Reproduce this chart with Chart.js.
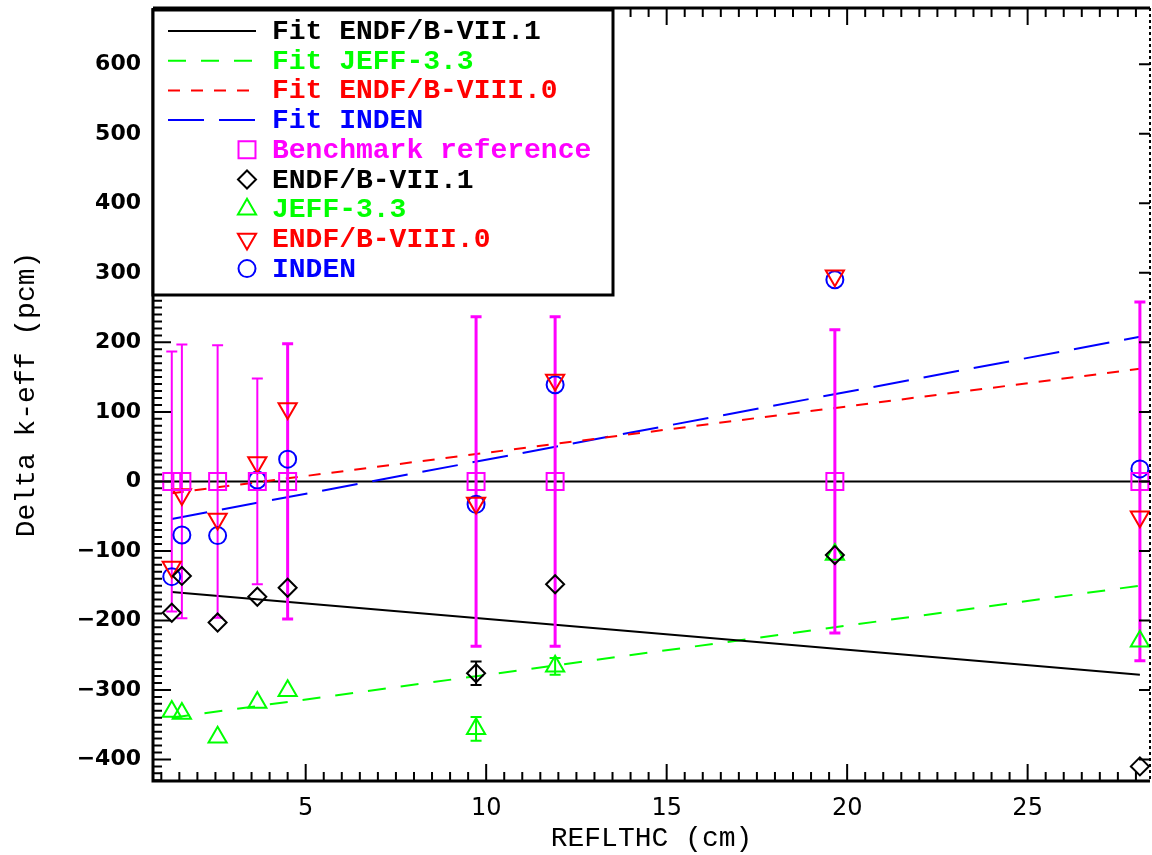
<!DOCTYPE html>
<html>
<head>
<meta charset="utf-8">
<script src="https://cdn.jsdelivr.net/npm/chart.js@4/dist/chart.umd.min.js"></script>
<style>
  html, body { margin: 0; padding: 0; background: #fff; }
  #wrap { width: 1152px; height: 855px; }
</style>
</head>
<body>
<div id="wrap"><canvas id="keffChart"></canvas></div>
<script>
// reflector thickness of each configuration (cm)
const reflThick = [1.29, 1.57, 2.56, 3.66, 4.50, 9.72, 11.91, 19.66, 28.11];

// delta k-eff (pcm) per library, benchmark uncertainty as +/- band
const benchRef = [0, 0, 0, 0, 0, 0, 0, 0, 0];
const benchUnc = [187, 197, 196, 148, 198, 237, 237, 218, 258];
const endf71 = [-189, -136, -203, -166, -153, -276, -148, -106, -410];
const endf71Unc = [0, 0, 0, 0, 0, 17, 0, 0, 0];
const jeff33 = [-331, -334, -368, -318, -301, -356, -266, -105, -230];
const jeff33Unc = [0, 0, 0, 0, 0, 17, 12, 0, 0];
const endf80 = [-123, -19, -54, 27, 105, -31, 146, 296, -51];
const inden = [-137, -77, -78, 2, 32, -33, 139, 290, 18];

// linear fits, evaluated at first and last thickness
const fitX = [1.29, 28.11];
const fitEndf71 = [-159, -278];
const fitJeff33 = [-340, -150];
const fitEndf80 = [-17, 162];
const fitInden = [-54, 208];

// axes
const xRange = [0.77, 28.39];
const yRange = [-431, 681];
const xTicks = [5, 10, 15, 20, 25];
const yTicks = [-400, -300, -200, -100, 0, 100, 200, 300, 400, 500, 600];
const xMinorStep = 0.5;
const yMinorStep = 10;

const pts = (xs, ys) => xs.map((x, i) => ({ x: x, y: ys[i] }));

function fitLine(label, ys, color, dash) {
    return {
        label: label,
        data: pts(fitX, ys),
        showLine: true,
        fit: true,
        borderColor: color,
        borderWidth: 2,
        borderDash: dash,
        pointRadius: 0,
        order: 1
    };
}

function markers(label, ys, color, style, radius, rotation, errors) {
    return {
        label: label,
        data: pts(reflThick, ys),
        showLine: false,
        errors: errors,
        borderColor: color,
        backgroundColor: 'rgba(0,0,0,0)',
        pointStyle: style,
        pointRadius: radius,
        pointRotation: rotation,
        pointBorderWidth: 2,
        order: 0
    };
}

// vertical error bars, drawn under the symbols
const errorBars = {
    id: 'errorBars',
    beforeDatasetsDraw(chart) { chart.$errDone = false; },
    beforeDatasetDraw(chart, args) {
        const ds = chart.data.datasets[args.index];
        if (chart.$errDone || ds.fit) return;
        chart.$errDone = true;
        const { ctx, scales: { x, y } } = chart;
        ctx.save();
        chart.data.datasets.forEach(d => {
            if (!d.errors) return;
            d.data.forEach((p, i) => {
                const e = d.errors[i];
                if (!e) return;
                const px = x.getPixelForValue(p.x);
                const y1 = y.getPixelForValue(p.y + e);
                const y2 = y.getPixelForValue(p.y - e);
                ctx.strokeStyle = d.borderColor;
                ctx.lineWidth = d.errorWidth ? d.errorWidth(i) : 2;
                ctx.beginPath();
                ctx.moveTo(px, y1); ctx.lineTo(px, y2);
                ctx.moveTo(px - 5.5, y1); ctx.lineTo(px + 5.5, y1);
                ctx.moveTo(px - 5.5, y2); ctx.lineTo(px + 5.5, y2);
                ctx.stroke();
            });
        });
        ctx.restore();
    }
};

// box frame with inward tick marks
const frameTicks = {
    id: 'frameTicks',
    afterDraw(chart) {
        const { ctx, chartArea: a, scales: { x, y } } = chart;
        ctx.save();
        ctx.strokeStyle = '#000';
        ctx.lineWidth = 2;
        ctx.beginPath();
        const k0 = Math.ceil(yRange[0] / yMinorStep);
        for (let k = k0; k * yMinorStep <= yRange[1]; k++) {
            const v = k * yMinorStep;
            const py = y.getPixelForValue(v);
            const len = v % 100 === 0 ? 18 : 9;
            ctx.moveTo(a.left, py); ctx.lineTo(a.left + len, py);
            if (v % 100 === 0) { ctx.moveTo(a.right, py); ctx.lineTo(a.right - 11, py); }
        }
        const j0 = Math.ceil(xRange[0] / xMinorStep);
        for (let j = j0; j * xMinorStep <= xRange[1]; j++) {
            const px = x.getPixelForValue(j * xMinorStep);
            const len = j % 10 === 0 ? 17 : 9;
            ctx.moveTo(px, a.bottom); ctx.lineTo(px, a.bottom - len);
            ctx.moveTo(px, a.top); ctx.lineTo(px, a.top + len);
        }
        ctx.stroke();

        ctx.lineWidth = 3;
        ctx.beginPath();
        ctx.moveTo(a.left, a.top); ctx.lineTo(a.left, a.bottom); ctx.lineTo(a.right, a.bottom);
        ctx.moveTo(a.left, a.top); ctx.lineTo(a.right, a.top);
        ctx.stroke();
        ctx.lineWidth = 2;
        ctx.setLineDash([3, 3]);
        ctx.beginPath();
        ctx.moveTo(a.right, a.top); ctx.lineTo(a.right, a.bottom);
        ctx.stroke();
        ctx.restore();
    }
};

// legend drawn inside the plot, top-left
const legendBox = {
    id: 'legendBox',
    afterDraw(chart) {
        const ctx = chart.ctx;
        const left = 153, top = 10, right = 613, bottom = 295;
        ctx.save();
        ctx.fillStyle = '#fff';
        ctx.fillRect(left, top, right - left, bottom - top);
        ctx.strokeStyle = '#000';
        ctx.lineWidth = 3;
        ctx.strokeRect(left, top, right - left, bottom - top);
        ctx.font = 'bold 28px "Liberation Mono", monospace';
        ctx.textBaseline = 'middle';
        ctx.textAlign = 'left';
        const entries = chart.data.datasets.filter(d => d.label);
        entries.forEach((d, i) => {
            const ry = 31 + i * 29.7;
            ctx.strokeStyle = d.borderColor;
            ctx.lineWidth = 2;
            if (d.fit) {
                ctx.setLineDash(d.borderDash || []);
                ctx.beginPath();
                ctx.moveTo(168, ry); ctx.lineTo(256, ry);
                ctx.stroke();
                ctx.setLineDash([]);
            } else {
                ctx.fillStyle = 'rgba(0,0,0,0)';
                Chart.helpers.drawPoint(ctx, {
                    pointStyle: d.pointStyle,
                    rotation: d.pointRotation,
                    radius: d.pointRadius,
                    borderWidth: 2
                }, 247, ry);
            }
            ctx.fillStyle = d.borderColor;
            ctx.fillText(d.label, 272, ry + 1);
        });
        ctx.restore();
    }
};

const bench = markers('Benchmark reference', benchRef, '#ff00ff', 'rect', 12, 0, benchUnc);
bench.errorWidth = i => (i < 4 ? 2 : 3);

const datasets = [
    fitLine('Fit ENDF/B-VII.1', fitEndf71, '#000000', []),
    fitLine('Fit JEFF-3.3', fitJeff33, '#00ff00', [18, 15]),
    fitLine('Fit ENDF/B-VIII.0', fitEndf80, '#ff0000', [12, 11]),
    fitLine('Fit INDEN', fitInden, '#0000ff', [36, 15]),
    bench,
    markers('ENDF/B-VII.1', endf71, '#000000', 'rectRot', 9, 0, endf71Unc),
    markers('JEFF-3.3', jeff33, '#00ff00', 'triangle', 10.5, 0, jeff33Unc),
    markers('ENDF/B-VIII.0', endf80, '#ff0000', 'triangle', 10.5, 180, null),
    markers('INDEN', inden, '#0000ff', 'circle', 8.5, 0, null),
    {
        // zero reference line across the full range
        data: pts(xRange, [0, 0]),
        showLine: true,
        fit: true,
        borderColor: '#000000',
        borderWidth: 2,
        pointRadius: 0,
        order: 1
    }
];

new Chart(document.getElementById('keffChart'), {
    type: 'scatter',
    data: { datasets: datasets },
    plugins: [errorBars, frameTicks, legendBox],
    options: {
        responsive: true,
        maintainAspectRatio: false,
        animation: false,
        layout: { autoPadding: false, padding: { left: 0, right: 2, top: 8, bottom: 0 } },
        plugins: {
            legend: { display: false },
            tooltip: { enabled: false }
        },
        scales: {
            x: {
                type: 'linear',
                min: xRange[0],
                max: xRange[1],
                afterBuildTicks: s => { s.ticks = xTicks.map(v => ({ value: v })); },
                afterFit: s => { s.height = 74; s.paddingLeft = 0; s.paddingRight = 0; },
                grid: { display: false, drawTicks: false },
                border: { display: false },
                ticks: {
                    padding: 13,
                    color: '#000',
                    font: { family: '"DejaVu Sans", sans-serif', size: 24 }
                },
                title: {
                    display: true,
                    text: 'REFLTHC (cm)',
                    color: '#000',
                    padding: { top: 0, bottom: 0 },
                    font: { family: '"Liberation Mono", monospace', size: 28 }
                }
            },
            y: {
                type: 'linear',
                min: yRange[0],
                max: yRange[1],
                afterBuildTicks: s => { s.ticks = yTicks.map(v => ({ value: v })); },
                afterFit: s => { s.width = 153; s.paddingTop = 0; s.paddingBottom = 0; },
                grid: { display: false, drawTicks: false },
                border: { display: false },
                ticks: {
                    padding: 12,
                    color: '#000',
                    font: { family: '"DejaVu Sans", sans-serif', size: 22, weight: 'bold' },
                    callback: v => (v < 0 ? '\u2212' + Math.abs(v) : String(v))
                },
                title: {
                    display: true,
                    text: 'Delta k-eff (pcm)',
                    color: '#000',
                    padding: { top: 10, bottom: 0 },
                    font: { family: '"Liberation Mono", monospace', size: 28 }
                }
            }
        }
    }
});
</script>
</body>
</html>
